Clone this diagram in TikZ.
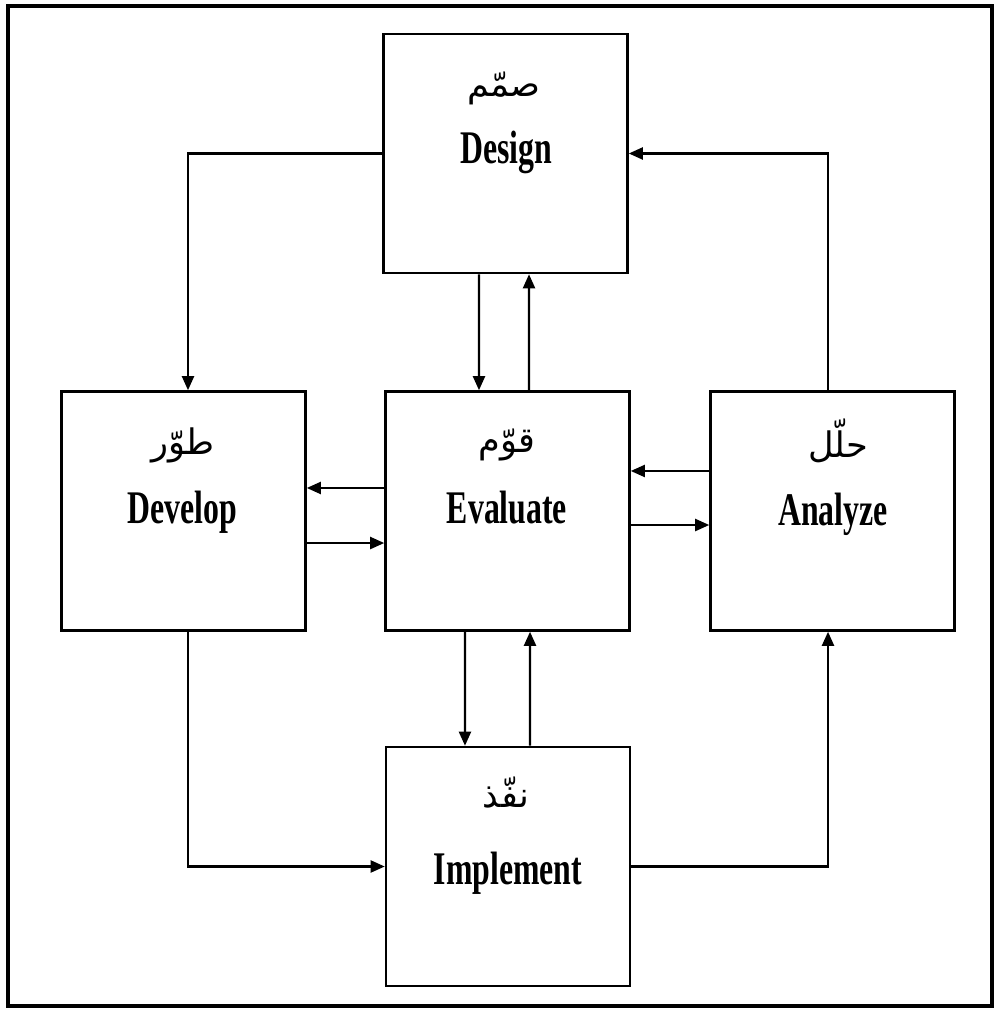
\documentclass[tikz,border=0pt]{standalone}
\usepackage{fontspec}
\setmainfont{Liberation Serif}
\newfontfamily\engfont[FakeStretch=0.68]{Liberation Serif}
\newfontfamily\arabicfont[Script=Arabic]{DejaVu Sans}
\TeXXeTstate=1
\usetikzlibrary{arrows.meta}
\tikzset{
  stage/.style={draw, line width=0.7pt, minimum width=2.44cm, minimum height=2.39cm, inner sep=0pt},
  en/.style={font=\engfont\bfseries\fontsize{13.3}{15}\selectfont, anchor=base, inner sep=0pt},
  ar/.style={font=\arabicfont\fontsize{10}{12}\selectfont, inner sep=0pt},
  arr/.style={line width=0.6pt, -{Triangle[length=1.4mm,width=1.2mm]}}
}
\begin{document}
\begin{tikzpicture}[x=0.01cm, y=-0.01cm]
    \useasboundingbox (0,0) rectangle (995,1013);
    \draw[line width=1.4pt] (8,6) rectangle (992,1006);
    % boxes
    \node[stage] (design) at (505.5,153.5) {};
    \node[stage] (develop) at (183.5,511) {};
    \node[stage] (evaluate) at (507.5,511) {};
    \node[stage] (analyze) at (832.5,511) {};
    \node[stage] (implement) at (508,866.5) {};
    % labels
    \node[ar] (designAr) at (504,88) {\beginR صمّم\endR};
    \node[en] (designEn) at (506,164) {Design};
    \node[ar] (developAr) at (183,445) {\beginR طوّر\endR};
    \node[en] (developEn) at (182,523) {Develop};
    \node[ar] (evaluateAr) at (507,445) {\beginR قوّم\endR};
    \node[en] (evaluateEn) at (507,523) {Evaluate};
    \node[ar] (analyzeAr) at (838,441) {\beginR حلّل\endR};
    \node[en] (analyzeEn) at (833,525) {Analyze};
    \node[ar] (implementAr) at (506,793) {\beginR نفّذ\endR};
    \node[en] (implementEn) at (508,884) {Implement};
    % outer loop
    \draw[arr] (design.west) -| ([xshift=0.045cm]develop.north);
    \draw[arr] ([xshift=0.045cm]develop.south) |- (implement.west);
    \draw[arr] (implement.east) -| ([xshift=-0.045cm]analyze.south);
    \draw[arr] ([xshift=-0.045cm]analyze.north) |- (design.east);
    % to and from evaluate
    \path ([xshift=-0.265cm]design.south) edge [arr] ([xshift=-0.285cm]evaluate.north);
    \path ([xshift=0.215cm]evaluate.north) edge [arr] ([xshift=0.235cm]design.south);
    \path ([yshift=0.23cm]evaluate.west) edge [arr] ([yshift=0.23cm]develop.east);
    \path ([yshift=-0.32cm]develop.east) edge [arr] ([yshift=-0.32cm]evaluate.west);
    \path ([yshift=0.40cm]analyze.west) edge [arr] ([yshift=0.40cm]evaluate.east);
    \path ([yshift=-0.14cm]evaluate.east) edge [arr] ([yshift=-0.14cm]analyze.west);
    \path ([xshift=-0.425cm]evaluate.south) edge [arr] ([xshift=-0.43cm]implement.north);
    \path ([xshift=0.22cm]implement.north) edge [arr] ([xshift=0.225cm]evaluate.south);
  \end{tikzpicture}
\end{document}
